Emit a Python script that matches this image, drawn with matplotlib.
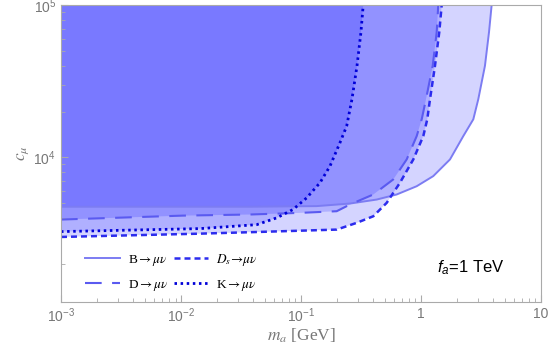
import numpy as np
import matplotlib
matplotlib.use("Agg")
import matplotlib.pyplot as plt
from matplotlib.ticker import LogLocator, FixedLocator, FixedFormatter, NullFormatter

plt.rcParams['font.family'] = 'Liberation Sans'
plt.rcParams['mathtext.fontset'] = 'custom'
plt.rcParams['mathtext.rm'] = 'Liberation Sans'
plt.rcParams['mathtext.it'] = 'Liberation Sans:italic'

# boundaries of the excluded regions (m_a [GeV], c_mu)
m_B = [1e-3, 0.0376, 0.135, 0.256, 0.428, 0.627, 0.921, 1.266, 1.745, 2.252, 2.729, 3.003, 3.412, 3.689, 3.88]
c_B = [4745, 4745, 4790, 4980, 5290, 5710, 6470, 7540, 9700, 13800, 17780, 24100, 39900, 66400, 100000]

m_D = [1e-3, 0.0104, 0.0376, 0.0981, 0.1984, 0.256, 0.4004, 0.5875, 0.760, 0.921, 1.014, 1.101, 1.252, 1.352, 1.393]
c_D = [3910, 4150, 4220, 4325, 4435, 4910, 5710, 7170, 9700, 13800, 17780, 24100, 39900, 66400, 100000]

m_Ds = [1e-3, 0.0144, 0.0376, 0.1984, 0.291, 0.4004, 0.518, 0.668, 0.863, 1.045, 1.128, 1.189, 1.308, 1.420, 1.488]
c_Ds = [3006, 3160, 3230, 3360, 3720, 4110, 5035, 6820, 9700, 13800, 17780, 24100, 39900, 66400, 100000]

m_K = [1e-3, 0.0144, 0.0428, 0.0627, 0.0858, 0.1116, 0.144, 0.1745, 0.2113, 0.2404, 0.256, 0.266, 0.293, 0.316, 0.330]
c_K = [3260, 3410, 3620, 4010, 4550, 5430, 6820, 8770, 12490, 16070, 20700, 24100, 39900, 66400, 100000]

labels = [r"B$\rightarrow\mu\nu$", r"D$\rightarrow\mu\nu$",
          r"$D_s\!\rightarrow\!\mu\nu$", r"K$\rightarrow\mu\nu$"]

fig = plt.figure(figsize=(5.56, 3.47), dpi=100)
ax = fig.add_axes([0.1097, 0.1305, 0.8633, 0.8551])

curves = [(m_B, c_B), (m_D, c_D), (m_Ds, c_Ds), (m_K, c_K)]
styles = [
    dict(color='#7c7cf2', lw=1.4, ls='-'),
    dict(color='#5a5af0', lw=1.5, ls=(0, (8, 5))),
    dict(color='#2c2cee', lw=1.8, ls=(0, (2.4, 1.6))),
    dict(color='#0000d8', lw=2.0, ls=(0, (0.9, 1.3))),
]

for (m, c) in curves:
    xs = [1e-4] + list(m) + [m[-1], 1e-4]
    ys = [c[0]] + list(c) + [1e6, 1e6]
    ax.fill(xs, ys, color='blue', alpha=0.17, lw=0)

handles = []
for (m, c), st, lab in zip(curves, styles, labels):
    h, = ax.plot(m, c, label=lab, solid_joinstyle='round', dash_joinstyle='round', **st)
    handles.append(h)

ax.set_xscale('log')
ax.set_yscale('log')
ax.set_xlim(1e-3, 10)
ax.set_ylim(1130, 1e5)

gray = '#777777'
for s in ax.spines.values():
    s.set_color('#aaaaaa')
ax.xaxis.set_major_locator(FixedLocator([1e-3, 1e-2, 1e-1, 1, 10]))
ax.xaxis.set_major_formatter(FixedFormatter([r"$10^{-3}$", r"$10^{-2}$", r"$10^{-1}$", "1", "10"]))
ax.xaxis.set_minor_locator(LogLocator(base=10, subs=np.arange(2, 10)))
ax.xaxis.set_minor_formatter(NullFormatter())
ax.yaxis.set_major_locator(FixedLocator([1e4, 1e5]))
ax.yaxis.set_major_formatter(FixedFormatter([r"$10^{4}$", r"$10^{5}$"]))
ax.yaxis.set_minor_locator(LogLocator(base=10, subs=np.arange(2, 10)))
ax.yaxis.set_minor_formatter(NullFormatter())
ax.tick_params(which='both', direction='in', colors='#aaaaaa', labelcolor=gray, labelsize=10)
ax.tick_params(which='major', length=5)
ax.tick_params(which='minor', length=3)

ax.set_xlabel(r"$m_a$ [GeV]", family='Liberation Serif', fontsize=12.5, color=gray,
              math_fontfamily='stix', labelpad=1)
ax.set_ylabel(r"$c_\mu$", family='Liberation Serif', fontsize=12.5, color=gray,
              math_fontfamily='stix', labelpad=2)

ax.text(0.783, 0.10, r"$f_a$=1 TeV", transform=ax.transAxes, fontsize=12,
        color='black', ha='left', va='baseline')

leg = ax.legend(handles=handles, ncol=2, frameon=False, loc='lower left',
                bbox_to_anchor=(0.026, -0.01), prop={'family': 'Liberation Serif', 'size': 9.5},
                handlelength=2.6, labelspacing=0.75, columnspacing=0.4, handletextpad=0.6)
for t in leg.get_texts():
    t.set_math_fontfamily('stix')

fig.savefig('out.png', dpi=100)
